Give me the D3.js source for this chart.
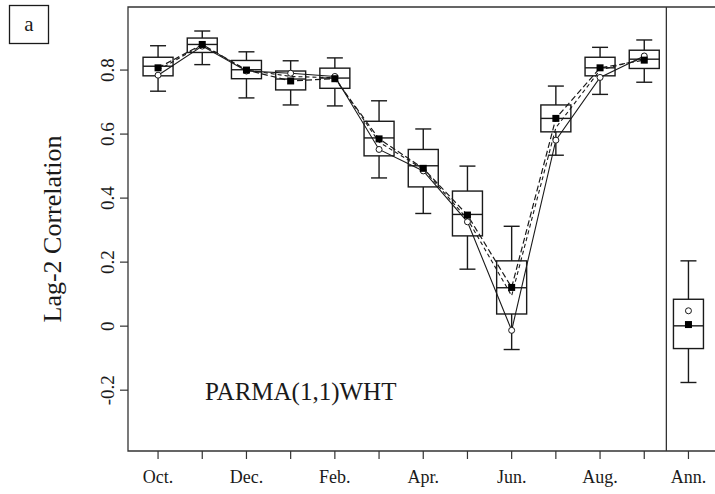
<!DOCTYPE html>
<html>
<head>
<meta charset="utf-8">
<script src="https://cdn.jsdelivr.net/npm/d3@7"></script>
<style>
  body { margin: 0; background: #fff; }
  svg { display: block; font-family: "Liberation Serif", "Times New Roman", serif; }
</style>
</head>
<body>
<svg id="chart" width="715" height="494"></svg>
<script>
// box statistics per month (Oct..Sep) followed by the annual box
const categories = ['Oct.', 'Nov.', 'Dec.', 'Jan.', 'Feb.', 'Mar.', 'Apr.', 'May', 'Jun.', 'Jul.', 'Aug.', 'Sep.', 'Ann.'];
const tickLabels = ['Oct.', '', 'Dec.', '', 'Feb.', '', 'Apr.', '', 'Jun.', '', 'Aug.', '', 'Ann.'];
const whiskerLo = [0.734, 0.817, 0.713, 0.691, 0.688, 0.463, 0.352, 0.178, -0.073, 0.534, 0.724, 0.762, -0.176];
const q1        = [0.782, 0.855, 0.773, 0.738, 0.743, 0.532, 0.435, 0.282, 0.038, 0.607, 0.782, 0.805, -0.070];
const median    = [0.812, 0.880, 0.801, 0.772, 0.775, 0.588, 0.501, 0.349, 0.120, 0.649, 0.807, 0.834, 0.001];
const q3        = [0.840, 0.900, 0.830, 0.797, 0.806, 0.640, 0.552, 0.422, 0.204, 0.691, 0.840, 0.862, 0.084];
const whiskerHi = [0.876, 0.922, 0.857, 0.829, 0.838, 0.704, 0.616, 0.500, 0.312, 0.750, 0.871, 0.894, 0.204];
// filled squares, open circles and the unmarked model curve
const meanValues   = [0.807, 0.880, 0.800, 0.766, 0.773, 0.585, 0.493, 0.347, 0.121, 0.649, 0.807, 0.831, 0.005];
const sampleValues = [0.784, 0.875, 0.797, 0.790, 0.780, 0.552, 0.485, 0.326, -0.013, 0.581, 0.777, 0.844, 0.048];
const modelValues  = [0.800, 0.878, 0.800, 0.780, 0.776, 0.575, 0.490, 0.335, 0.095, 0.620, 0.800, 0.836];
const yTicks = [-0.2, 0, 0.2, 0.4, 0.6, 0.8];

const svg = d3.select('#chart');
const plotLeft = 128, plotTop = 7, plotBottom = 451, plotRight = 720;
const ink = '#1a1a1a';

const x = d3.scaleLinear().domain([-0.68, 12.6]).range([plotLeft, plotLeft + 13.28 * 44.2]);
const y = d3.scaleLinear().domain([-0.39, 0.997]).range([plotBottom, plotTop]);

// frame (no right edge in view)
svg.append('path')
  .attr('d', `M${plotRight},${plotTop}H${plotLeft}V${plotBottom}H${plotRight}`)
  .attr('fill', 'none').attr('stroke', '#333').attr('stroke-width', 1.3);
svg.append('line')
  .attr('x1', x(11.5)).attr('x2', x(11.5)).attr('y1', plotTop).attr('y2', plotBottom)
  .attr('stroke', '#333').attr('stroke-width', 1.3);

// y axis
const yAxis = svg.append('g');
yAxis.selectAll('line').data(yTicks).join('line')
  .attr('x1', plotLeft - 8).attr('x2', plotLeft)
  .attr('y1', d => y(d)).attr('y2', d => y(d))
  .attr('stroke', '#333').attr('stroke-width', 1.2);
yAxis.selectAll('text').data(yTicks).join('text')
  .attr('transform', d => `translate(${plotLeft - 14},${y(d)}) rotate(-90)`)
  .attr('text-anchor', 'middle')
  .attr('font-size', 19)
  .attr('fill', ink)
  .text(d => d === 0 ? '0' : String(d));

// x axis
const idx = d3.range(categories.length);
const xAxis = svg.append('g');
xAxis.selectAll('line').data(idx).join('line')
  .attr('x1', d => x(d)).attr('x2', d => x(d))
  .attr('y1', plotBottom).attr('y2', plotBottom + 8)
  .attr('stroke', '#333').attr('stroke-width', 1.2);
xAxis.selectAll('text').data(idx).join('text')
  .attr('x', d => x(d)).attr('y', plotBottom + 32)
  .attr('text-anchor', 'middle')
  .attr('font-size', 18)
  .attr('fill', ink)
  .text(d => tickLabels[d]);

// axis title
svg.append('text')
  .attr('transform', `translate(61,${(plotTop + plotBottom) / 2}) rotate(-90)`)
  .attr('text-anchor', 'middle')
  .attr('font-size', 26)
  .attr('fill', ink)
  .text('Lag-2 Correlation');

// connecting lines for the monthly values
const months = d3.range(12);
const line = d3.line().x(d => x(d[0])).y(d => y(d[1]));
svg.append('path')
  .attr('d', line(months.map(i => [i, modelValues[i]])))
  .attr('fill', 'none').attr('stroke', ink).attr('stroke-width', 1.1)
  .attr('stroke-dasharray', '4,3');
svg.append('path')
  .attr('d', line(months.map(i => [i, meanValues[i]])))
  .attr('fill', 'none').attr('stroke', ink).attr('stroke-width', 1.2)
  .attr('stroke-dasharray', '6,3');
svg.append('path')
  .attr('d', line(months.map(i => [i, sampleValues[i]])))
  .attr('fill', 'none').attr('stroke', ink).attr('stroke-width', 1.1);

// boxes
const boxW = 30, capW = 16;
const boxes = svg.append('g').selectAll('g').data(idx).join('g')
  .attr('stroke', ink).attr('stroke-width', 1.4).attr('fill', 'none');
boxes.append('line')
  .attr('x1', d => x(d)).attr('x2', d => x(d))
  .attr('y1', d => y(whiskerHi[d])).attr('y2', d => y(q3[d]));
boxes.append('line')
  .attr('x1', d => x(d)).attr('x2', d => x(d))
  .attr('y1', d => y(q1[d])).attr('y2', d => y(whiskerLo[d]));
boxes.append('line')
  .attr('x1', d => x(d) - capW / 2).attr('x2', d => x(d) + capW / 2)
  .attr('y1', d => y(whiskerHi[d])).attr('y2', d => y(whiskerHi[d]));
boxes.append('line')
  .attr('x1', d => x(d) - capW / 2).attr('x2', d => x(d) + capW / 2)
  .attr('y1', d => y(whiskerLo[d])).attr('y2', d => y(whiskerLo[d]));
boxes.append('rect')
  .attr('x', d => x(d) - boxW / 2).attr('width', boxW)
  .attr('y', d => y(q3[d])).attr('height', d => y(q1[d]) - y(q3[d]));
boxes.append('line')
  .attr('x1', d => x(d) - boxW / 2).attr('x2', d => x(d) + boxW / 2)
  .attr('y1', d => y(median[d])).attr('y2', d => y(median[d]));

// markers
svg.append('g').selectAll('circle').data(idx).join('circle')
  .attr('cx', d => x(d)).attr('cy', d => y(sampleValues[d])).attr('r', 3)
  .attr('fill', '#fff').attr('stroke', ink).attr('stroke-width', 1);
svg.append('g').selectAll('rect').data(idx).join('rect')
  .attr('x', d => x(d) - 3.5).attr('y', d => y(meanValues[d]) - 3.5)
  .attr('width', 7).attr('height', 7)
  .attr('fill', '#000');

// model label
svg.append('text')
  .attr('x', 205).attr('y', 400)
  .attr('font-size', 25)
  .attr('fill', ink)
  .text('PARMA(1,1)WHT');

// panel letter
svg.append('rect')
  .attr('x', 9.5).attr('y', 5.5).attr('width', 39).attr('height', 38)
  .attr('fill', 'none').attr('stroke', ink).attr('stroke-width', 1.3);
svg.append('text')
  .attr('x', 29).attr('y', 31)
  .attr('text-anchor', 'middle')
  .attr('font-size', 21)
  .attr('fill', ink)
  .text('a');
</script>
</body>
</html>
